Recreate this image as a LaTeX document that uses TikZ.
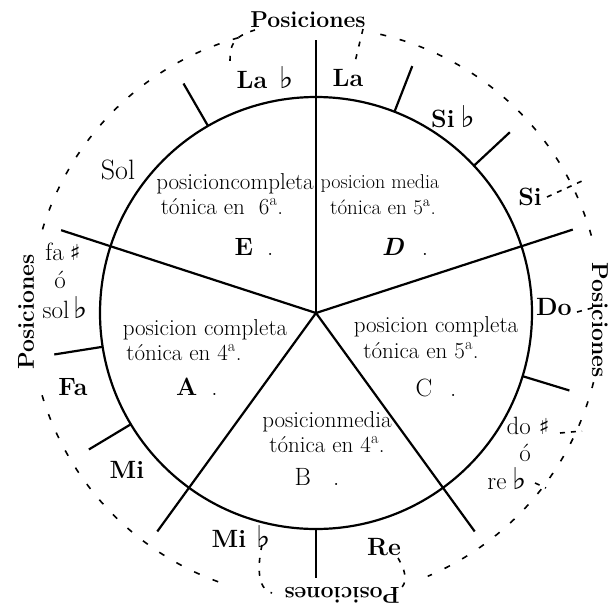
\documentclass[tikz,border=0pt]{standalone}
\usepackage{fontspec}
\newfontfamily\symfam{DejaVu Sans}
\newcommand{\myflat}{{\symfam\fontsize{30}{30}\selectfont ♭}}
\newcommand{\mysharp}{{\symfam\fontsize{22}{22}\selectfont\bfseries ♯}}
\newcommand{\ordA}{\textsuperscript{a}}
\begin{document}
\begin{tikzpicture}[x=1pt,y=1pt,
  heavy/.style={line width=2.2pt},
  dashline/.style={line width=1.6pt, dash pattern=on 6pt off 14pt},
  inner/.style={font=\fontsize{23}{25}\selectfont, inner sep=0pt},
  note/.style={font=\fontsize{25}{27}\selectfont\bfseries, inner sep=0pt},
  lnote/.style={font=\fontsize{25}{27}\selectfont, inner sep=0pt},
  posl/.style={font=\fontsize{23}{25}\selectfont\bfseries, inner sep=0pt},
  letter/.style={font=\fontsize{25}{27}\selectfont, inner sep=0pt},
]
\useasboundingbox (-316,-293) rectangle (296,313);
\coordinate (O) at (0,0);
% main circle
\draw[heavy] (O) circle[radius=216];
% five main spokes
\foreach \a/\r [count=\i] in {90/273,18/270,306/270,234/270,162/268}
  \coordinate (sp\i) at (\a:\r);
\foreach \i in {1,...,5} \draw[heavy] (O) -- (sp\i);
% short ticks
\foreach \a [count=\i] in {120,68.7,43,-17,-90,211,189}{
  \coordinate (ti\i) at (\a:216);
  \coordinate (to\i) at (\a:265);
  \draw[heavy] (ti\i) -- (to\i);
}
% dashed outer arcs
\draw[dashline] (77:286) arc[start angle=77, end angle=14, radius=286];
\draw[dashline] (-14:286) arc[start angle=-14, end angle=-67, radius=286];
\draw[dashline] (250:286) arc[start angle=250, end angle=196, radius=286];
\draw[dashline] (163:286) arc[start angle=163, end angle=104, radius=286];
% dashed brackets and leaders
\draw[dashline, dash pattern=on 5pt off 8pt] (-61,283) .. controls (-84,276) and (-86,268) .. (-86,250);
\draw[dashline, dash pattern=on 5pt off 8pt] (47,284) -- (39,251);
\draw[dashline, dash pattern=on 5pt off 8pt] (-54,-232) .. controls (-58,-250) and (-60,-276) .. (-44,-280);
\draw[dashline, dash pattern=on 5pt off 8pt] (82,-245) .. controls (92,-262) and (92,-274) .. (78,-280);
\draw[dashline, dash pattern=on 5pt off 6pt] (231,116) -- (266,132);
\draw[dashline, dash pattern=on 5pt off 6pt] (261,1) -- (280,6);
\draw[dashline, dash pattern=on 5pt off 6pt] (244,-120) -- (266,-118);
\draw[dashline, dash pattern=on 5pt off 6pt] (219,-170) -- (230,-175);
% Posiciones labels
\node[posl] (pt) at (-8,293) {Posiciones};
\node[posl, rotate=90] (pl) at (-290,1) {Posiciones};
\node[posl, rotate=-90] (pr) at (284,-7) {Posiciones};
\node[posl, rotate=180] (pb) at (26,-282) {Posiciones};
% note labels
\node[note] (laf) at (-51,235) {La\hspace{12pt}\myflat};
\node[note] (la) at (32,235) {La};
\node[note] (sif) at (137,196) {Si\hspace{6pt}\myflat};
\node[note] (si) at (214,116) {Si};
\node[note] (do) at (238,6) {Do};
\node[lnote] (dos) at (212,-113) {do\hspace{8pt}\mysharp};
\node[lnote] (o1) at (209,-140) {ó};
\node[lnote] (ref) at (191,-166) {re\hspace{6pt}\myflat};
\node[note] (re) at (68,-234) {Re};
\node[note] (mif) at (-75,-224) {Mi\hspace{10pt}\myflat};
\node[note] (mi) at (-189,-157) {Mi};
\node[note] (fa) at (-243,-74) {Fa};
\node[lnote] (fas) at (-253,61) {fa\hspace{6pt}\mysharp};
\node[lnote] (o2) at (-256,33) {ó};
\node[lnote] (solf) at (-251,5) {sol\hspace{4pt}\myflat};
\node[lnote, font=\fontsize{28}{30}\selectfont] (sol) at (-198,143) {Sol};
% sector E
\node[inner, anchor=east] (e1) at (-2,129) {posicioncompleta};
\node[inner] (e2) at (-94,106) {tónica en\hspace{14pt}6\ordA.};
\node[letter] (e3) at (-62,66) {\textbf{E}\hspace{14pt}.};
% sector D
\node[inner, font=\fontsize{20}{22}\selectfont] (d1) at (64,129) {posicion media};
\node[inner, font=\fontsize{21}{22}\selectfont] (d2) at (67,106) {tónica en 5\ordA.};
\node[letter] (d3) at (89,66) {\textbf{\textit{D}}\hspace{18pt}.};
% sector A
\node[inner] (a1) at (-111,-17) {posicion completa};
\node[inner] (a2) at (-132,-40) {tónica en 4\ordA.};
\node[letter] (a3) at (-119,-74) {\textbf{A}\hspace{14pt}.};
% sector B
\node[inner] (b1) at (11,-109) {posicionmedia};
\node[inner] (b2) at (11,-132) {tónica en 4\ordA.};
\node[letter] (b3) at (1,-164) {B\hspace{22pt}.};
% sector C
\node[inner] (c1) at (120,-14) {posicion completa};
\node[inner] (c2) at (105,-38) {tónica en 5\ordA.};
\node[letter] (c3) at (120,-75) {C\hspace{18pt}.};
\end{tikzpicture}
\end{document}
